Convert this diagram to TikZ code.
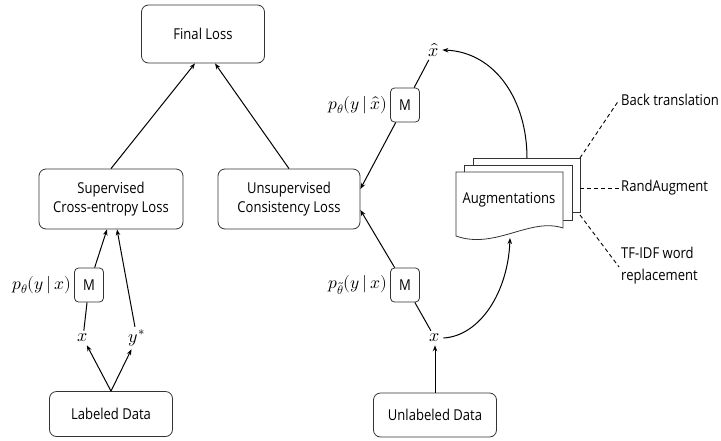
\documentclass[tikz,border=0pt]{standalone}
\usepackage{fontspec}
\usepackage{unicode-math}
\setmainfont[FakeStretch=0.87]{Open Sans}
\usetikzlibrary{arrows.meta}
\begin{document}
\begin{tikzpicture}[x=1pt,y=-1pt,
  txt/.style={font=\fontsize{15}{19}\selectfont},
  box/.style={draw=black!80, line width=0.8pt, rounded corners=7pt, align=center,
              inner sep=0pt, txt},
  mbox/.style={draw=black!80, line width=0.8pt, rounded corners=4pt, inner sep=0pt,
               minimum width=29pt, minimum height=34pt, txt},
  plbl/.style={inner sep=0pt, font=\fontsize{17.5}{20}\selectfont},
  var/.style={inner sep=3pt, font=\fontsize{18}{20}\selectfont},
  link/.style={line width=1pt},
  arr/.style={link, -{Stealth[length=6pt,width=4.5pt]}},
  methodline/.style={line width=0.9pt, dash pattern=on 4pt off 3pt},
  page/.style={draw=black!80, line width=0.8pt, fill=white}
]
\useasboundingbox (0,0) rectangle (721,440);

% loss boxes
\node[box, minimum width=123pt, minimum height=58pt] (final) at (203,34) {Final Loss};
\node[box, minimum width=144pt, minimum height=60pt] (sup) at (111,199) {Supervised\\Cross-entropy Loss};
\node[box, minimum width=142pt, minimum height=60pt] (unsup) at (289,199) {Unsupervised\\Consistency Loss};

% data boxes
\node[box, minimum width=123pt, minimum height=45pt] (lab) at (111,414) {Labeled Data};
\node[box, minimum width=123pt, minimum height=44pt] (unlab) at (435,415) {Unlabeled Data};

% model boxes and their output labels
\node[mbox] (m1) at (89,285) {M};
\node[mbox] (m2) at (405,105) {M};
\node[mbox] (m3) at (405,285) {M};
\node[plbl, anchor=east] (p1) at ([xshift=-3pt]m1.west) {$p_\theta(y\,|\,x)$};
\node[plbl, anchor=east] (p2) at ([xshift=-3pt]m2.west) {$p_\theta(y\,|\,\hat{x})$};
\node[plbl, anchor=east] (p3) at ([xshift=-3pt]m3.west) {$p_{\tilde\theta}(y\,|\,x)$};

% variables
\node[var] (xl) at (83,338) {$x$};
\node[var] (yl) at (137,338) {$y^{*}$};
\node[var] (xr) at (435,338) {$x$};
\node[var] (xh) at (434,50) {$\hat{x}$};

% supervised branch
\draw[arr] (lab.north) -- (xl);
\draw[arr] (lab.north) -- (yl);
\draw[link] (xl) -- (m1);
\draw[arr] (m1) -- ([xshift=-4pt]sup.south);
\draw[arr] (yl) -- ([xshift=6pt]sup.south);

% into the final loss
\draw[arr] (sup.north) -- ([xshift=-8pt]final.south);
\draw[arr] (unsup.north) -- ([xshift=12pt]final.south);

% unsupervised branch
\draw[arr] (unlab.north) -- (xr);
\draw[link] (xr) -- (m3);
\draw[arr] (m3) -- ([yshift=-11pt]unsup.east);
\draw[link] (m2) -- (xh);
\draw[arr] (m2) -- ([yshift=10pt]unsup.east);

% stack of augmentation pages
\draw[page] (473,158) rectangle (580,212);
\draw[page] (464,165) rectangle (572,220);
\draw[page] (456,172) -- (563,172) -- (563,228)
  .. controls (530,217) and (495,250) .. (456,236) -- cycle;
\node[txt, inner sep=0pt] (aug) at (509,200) {Augmentations};
\coordinate (augtop) at (527,158);
\coordinate (augbot) at (510,238);
\coordinate (augne) at (580,158);
\coordinate (auge) at (580,188);
\coordinate (augse) at (580,215);

\draw[arr] (xr.east) .. controls (480,336) and (508,292) .. (augbot);
\draw[arr] (augtop) .. controls (527,100) and (495,52) .. (xh.east);

% augmentation methods
\node[txt, anchor=west, inner sep=2pt] (bt) at (619,100) {Back translation};
\node[txt, anchor=west, inner sep=2pt] (ra) at (619,188) {RandAugment};
\node[txt, anchor=west, inner sep=2pt, align=left,
      font=\fontsize{15}{22}\selectfont] (tf) at (619,266) {TF-IDF word\\replacement};
\draw[methodline] (augne) -- (bt.west);
\draw[methodline] (auge) -- (ra.west);
\draw[methodline] (augse) -- ([yshift=-1pt]tf.west);
\end{tikzpicture}
\end{document}
